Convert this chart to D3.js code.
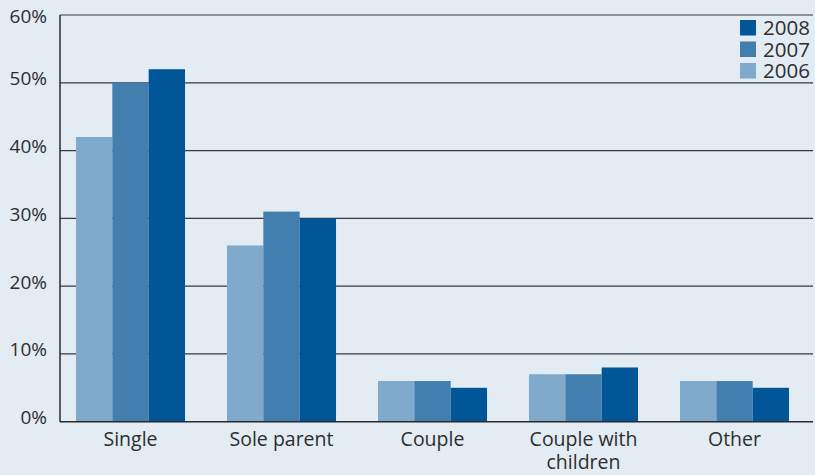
<!DOCTYPE html>
<html>
<head>
<meta charset="utf-8">
<script src="https://cdn.jsdelivr.net/npm/d3@7/dist/d3.min.js"></script>
<style>
  html, body { margin: 0; padding: 0; background: #e3ebf3; }
  svg { display: block; }
  text { font-family: "Open Sans", sans-serif; fill: #2e2e2e; }
</style>
</head>
<body>
<svg id="chart" width="815" height="475"></svg>
<script>
// Household types and share of each for three years
const categories = [["Single"], ["Sole parent"], ["Couple"], ["Couple with", "children"], ["Other"]];
const years = ["2006", "2007", "2008"];
const values2006 = [42, 26, 6, 7, 6];
const values2007 = [50, 31, 6, 7, 6];
const values2008 = [52, 30, 5, 8, 5];
const yTicks = [0, 10, 20, 30, 40, 50, 60];

const series = { "2006": values2006, "2007": values2007, "2008": values2008 };
const colors = { "2006": "#7faacb", "2007": "#427faf", "2008": "#005696" };

const svg = d3.select("#chart");
const W = 815, H = 475;
const plotLeft = 60, plotRight = 813, plotTop = 15, plotBottom = 421.7;

svg.append("rect").attr("width", W).attr("height", H).attr("fill", "#e3ebf3");

const catKeys = categories.map(c => c.join(" "));
const x = d3.scaleBand().domain(catKeys).range([55, 810]).paddingInner(0.278).paddingOuter(0.139);
const xi = d3.scaleBand().domain(years).range([0, x.bandwidth()]);
const y = d3.scaleLinear().domain([0, 60]).range([plotBottom, plotTop]);

// Horizontal gridlines
svg.append("g").selectAll("line").data(yTicks.filter(t => t > 0)).join("line")
  .attr("x1", plotLeft).attr("x2", plotRight)
  .attr("y1", d => y(d)).attr("y2", d => y(d))
  .attr("stroke", "#3a3a40").attr("stroke-width", 1.2);

// Tick labels
svg.append("g").selectAll("text").data(yTicks).join("text")
  .attr("x", 47).attr("y", d => Math.max(y(d) + 2.5, 23))
  .attr("text-anchor", "end").attr("font-size", 19)
  .text(d => d + "%");

// Bars
const groups = svg.append("g").selectAll("g").data(catKeys).join("g")
  .attr("transform", d => `translate(${x(d)},0)`);
groups.selectAll("rect").data((d, i) => years.map(yr => ({ yr, v: series[yr][i] }))).join("rect")
  .attr("x", d => xi(d.yr)).attr("width", xi.bandwidth())
  .attr("y", d => y(d.v)).attr("height", d => y(0) - y(d.v))
  .attr("fill", d => colors[d.yr]);

// Axis lines
svg.append("line").attr("x1", plotLeft).attr("x2", plotLeft).attr("y1", plotTop).attr("y2", plotBottom)
  .attr("stroke", "#2b2b2b").attr("stroke-width", 1.5);
svg.append("line").attr("x1", plotLeft).attr("x2", plotRight).attr("y1", plotBottom).attr("y2", plotBottom)
  .attr("stroke", "#2b2b2b").attr("stroke-width", 1.5);

// Category labels
const labels = svg.append("g").selectAll("text").data(categories).join("text")
  .attr("text-anchor", "middle").attr("font-size", 19.5)
  .attr("x", (d, i) => x(catKeys[i]) + x.bandwidth() / 2)
  .attr("y", 446);
labels.selectAll("tspan").data(d => d).join("tspan")
  .attr("x", function () { return d3.select(this.parentNode).attr("x"); })
  .attr("dy", (d, i) => i === 0 ? 0 : 23)
  .text(d => d);

// Legend
const legendYears = ["2008", "2007", "2006"];
const lg = svg.append("g").selectAll("g").data(legendYears).join("g")
  .attr("transform", (d, i) => `translate(740,${20 + i * 21.5})`);
lg.append("rect").attr("width", 16).attr("height", 15.5).attr("fill", d => colors[d]);
lg.append("text").attr("x", 23).attr("y", 15).attr("font-size", 20.5).text(d => d);
</script>
</body>
</html>
